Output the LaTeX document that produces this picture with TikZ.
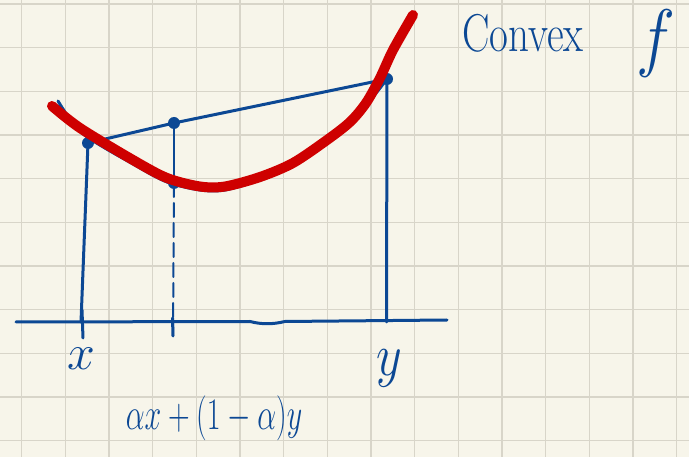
\RequirePackage{fix-cm}
\documentclass[tikz,border=0pt]{standalone}
\definecolor{paper}{RGB}{247,245,234}
\definecolor{gridc}{RGB}{216,213,201}
\definecolor{ink}{RGB}{12,72,148}
\definecolor{pen}{RGB}{206,0,0}
\tikzset{
  gridline/.style={gridc, line width=1.4pt},
  inkline/.style={ink, line width=3pt, line cap=round, line join=round},
  thinink/.style={ink, line width=2pt, line cap=round},
  redcurve/.style={pen, line width=10pt, line cap=round, line join=round},
  dotnode/.style={circle, fill=ink, inner sep=0pt, minimum width=12pt, minimum height=12pt},
  handlabel/.style={ink, inner sep=0pt},
}
\begin{document}
\begin{tikzpicture}[x=1pt,y=-1pt]
\fill[paper] (0,0) rectangle (689,457);
\useasboundingbox (0,0) rectangle (689,457);
% grid
\foreach \i in {0,...,15} \draw[gridline] ({21.7+43.67*\i},0) -- ({21.7+43.67*\i},457);
\foreach \j in {0,...,10} \draw[gridline] (0,{4+43.67*\j}) -- (689,{4+43.67*\j});
% points
\node[dotnode] (dX) at (88,143) {};
\node[dotnode] (dM) at (174,123) {};
\node[dotnode] (dY) at (387,79) {};
\node[dotnode] (dC) at (174,183) {};
\coordinate (axL) at (16,322);
\coordinate (axR) at (447,320);
\coordinate (xB) at (81,322);
\coordinate (yB) at (386.5,322);
\coordinate (tX1) at (82,310);
\coordinate (tX2) at (83,338);
\coordinate (mB) at (173,336);
% axis
\draw[inkline] (axL) -- (250,321.5) .. controls (262,324.5) and (272,324.5) .. (285,321.5) -- (axR);
% verticals
\draw[inkline] (dX.center) -- (xB);
\draw[inkline] (dY.center) -- (yB);
\draw[inkline] (tX1) -- (tX2);
\draw[thinink] (dM.center) -- (dC.center);
\draw[thinink, dash pattern=on 14pt off 6pt] (dC.center) -- (mB);
\draw[inkline] (172.5,318) -- (mB);
% chord
\draw[inkline] (dX.center) -- (dM.center) -- (dY.center);
% underlying blue curve
\draw[inkline] plot[smooth, tension=0.5] coordinates {(58,101) (82,133) (133,164) (167,182) (200,190) (225,190) (260,180) (293,166) (327,143) (350,125) (366,106) (387,79)};
% red convex curve
\draw[redcurve] plot[smooth, tension=0.5] coordinates {(52,106) (80,128) (133,160) (167,178) (200,186.5) (225,186.5) (260,177) (293,163) (327,140) (350,122) (366,103) (380,78) (393,50) (413,15)};
% labels
\node[handlabel, anchor=base west] (lconvex) at (462,52) {\scalebox{1}[1.3]{\fontsize{41}{41}\selectfont Convex}};
\node[handlabel] (lf) at (656,44) {\scalebox{1}[1.15]{\fontsize{66}{66}\selectfont$f$}};
\node[handlabel] (lx) at (81,359) {\fontsize{50}{50}\selectfont$x$};
\node[handlabel] (ly) at (389,368) {\scalebox{1}[1.2]{\fontsize{50}{50}\selectfont$y$}};
\node[handlabel] (lmix) at (214,418) {\scalebox{1}[1.5]{\fontsize{30}{30}\selectfont$\alpha x+(1-\alpha)y$}};
\end{tikzpicture}
\end{document}
